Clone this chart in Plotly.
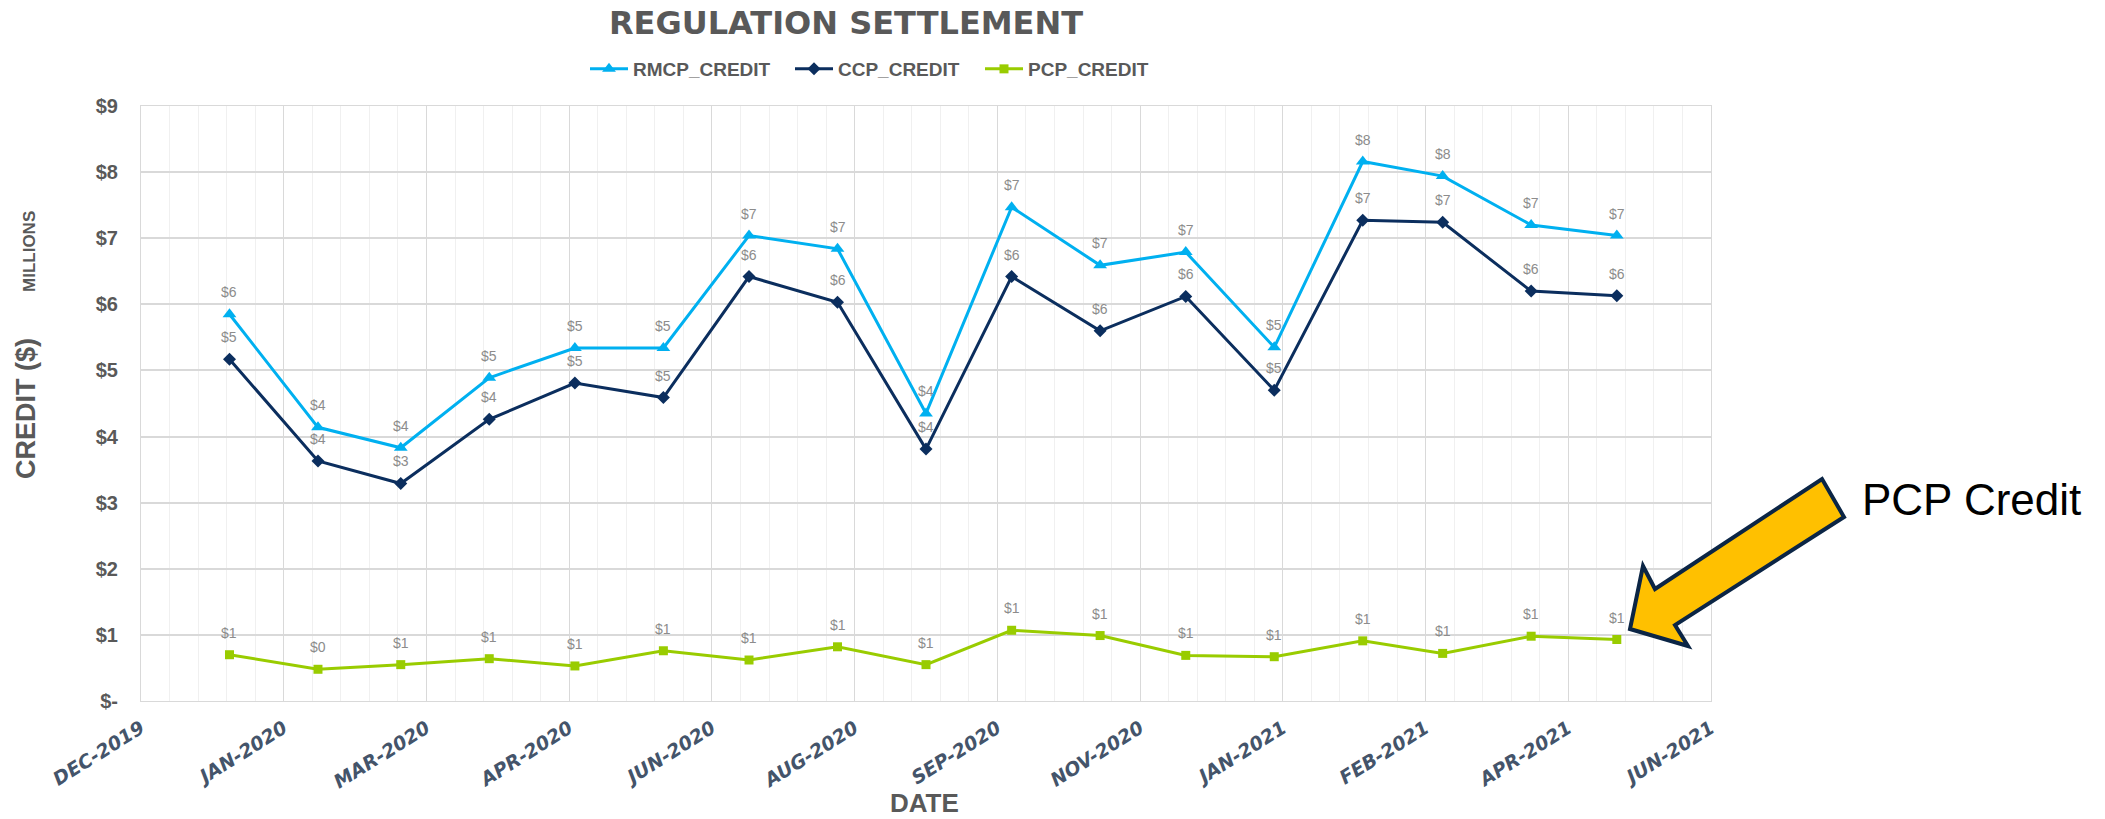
import plotly.graph_objects as go

# ---------------- data ----------------
months = ["2020-01-01", "2020-02-01", "2020-03-01", "2020-04-01", "2020-05-01", "2020-06-01",
          "2020-07-01", "2020-08-01", "2020-09-01", "2020-10-01", "2020-11-01", "2020-12-01",
          "2021-01-01", "2021-02-01", "2021-03-01", "2021-04-01", "2021-05-01"]
rmcp_credit = [5.85, 4.14, 3.83, 4.89, 5.34, 5.34, 7.04, 6.84, 4.35, 7.47, 6.59, 6.79,
               5.35, 8.16, 7.94, 7.20, 7.04]
ccp_credit = [5.17, 3.63, 3.29, 4.26, 4.81, 4.59, 6.42, 6.03, 3.81, 6.42, 5.60, 6.12,
              4.70, 7.27, 7.24, 6.20, 6.13]
pcp_credit = [0.70, 0.48, 0.55, 0.64, 0.53, 0.76, 0.62, 0.82, 0.55, 1.07, 0.99, 0.69,
              0.67, 0.91, 0.72, 0.98, 0.93]

tick_dates = ["2019-12-01", "2020-01-20", "2020-03-10", "2020-04-29", "2020-06-18", "2020-08-07",
              "2020-09-26", "2020-11-15", "2021-01-04", "2021-02-23", "2021-04-14", "2021-06-03"]
tick_labels = ["DEC-2019", "JAN-2020", "MAR-2020", "APR-2020", "JUN-2020", "AUG-2020",
               "SEP-2020", "NOV-2020", "JAN-2021", "FEB-2021", "APR-2021", "JUN-2021"]
y_ticks = [0, 1, 2, 3, 4, 5, 6, 7, 8, 9]
y_labels = ["$-", "$1", "$2", "$3", "$4", "$5", "$6", "$7", "$8", "$9"]

series_names = ["RMCP_CREDIT", "CCP_CREDIT", "PCP_CREDIT"]
series_values = [rmcp_credit, ccp_credit, pcp_credit]
series_colors = ["#00B0F0", "#0B2E5E", "#99CC00"]
series_symbols = ["triangle-up", "diamond", "square"]
series_sizes = [12, 10, 9]

# ---------------- layout geometry ----------------
W, H = 2105, 819
L, R, T, B = 141, 1711, 106, 701   # plot area in pixels
def px(x):
    return (x - L) / (R - L)
def py(y):
    return (B - y) / (B - T)

GRAY = "#595959"
DAY = 86400000
legend_ids = ["legend", "legend2", "legend3"]
legend_line_start = [591, 796, 986]   # pixel x where each legend entry starts

fig = go.Figure()
for i in range(3):
    fig.add_trace(go.Scatter(
        x=months, y=series_values[i], name=series_names[i], mode="lines+markers",
        line=dict(color=series_colors[i], width=3),
        marker=dict(symbol=series_symbols[i], size=series_sizes[i], color=series_colors[i]),
        legend=legend_ids[i],
    ))

annotations = []
for vals in series_values:
    for d, v in zip(months, vals):
        annotations.append(dict(
            x=d, y=v, xref="x", yref="y", text="$%d" % round(v), showarrow=False,
            xanchor="center", yanchor="middle", yshift=22,
            font=dict(family="Liberation Sans", size=14, color="#8C8C8C"),
        ))

# axis titles and callout text
annotations.append(dict(x=px(26), y=py(409), xref="paper", yref="paper", text="CREDIT ($)",
                        textangle=-90, showarrow=False, xanchor="center", yanchor="middle",
                        font=dict(family="Liberation Sans", size=27, color=GRAY, weight="bold")))
annotations.append(dict(x=px(29), y=py(252), xref="paper", yref="paper", text="MILLIONS",
                        textangle=-90, showarrow=False, xanchor="center", yanchor="middle",
                        font=dict(family="Liberation Sans", size=17, color=GRAY, weight="bold")))
annotations.append(dict(x=px(924), y=py(803), xref="paper", yref="paper", text="DATE",
                        showarrow=False, xanchor="center", yanchor="middle",
                        font=dict(family="Liberation Sans", size=26, color=GRAY, weight="bold")))
annotations.append(dict(x=px(1860), y=py(499), xref="paper", yref="paper", text="PCP Credit",
                        showarrow=False, xanchor="left", yanchor="middle",
                        font=dict(family="Liberation Sans", size=44, color="#000000")))

arrow_pts = [(1822, 479), (1844, 517), (1675, 625), (1688, 646), (1630, 629), (1643, 566), (1655, 589)]
path = "M " + " L ".join("%.5f,%.5f" % (px(a), py(b)) for a, b in arrow_pts) + " Z"

legend_font = dict(family="Liberation Sans", size=19, color=GRAY, weight="bold")
layout_legends = {}
for lid, xs in zip(legend_ids, legend_line_start):
    layout_legends[lid] = dict(orientation="h", x=px(xs - 6), y=py(69), xanchor="left",
                               yanchor="middle", font=legend_font, bgcolor="rgba(0,0,0,0)",
                               itemwidth=38)

fig.update_layout(
    width=W, height=H,
    margin=dict(l=L, r=W - R, t=T, b=H - B),
    paper_bgcolor="white", plot_bgcolor="white",
    title=dict(text="REGULATION SETTLEMENT", x=846 / W, xanchor="center",
               y=1 - 23 / H, yanchor="middle", yref="container",
               font=dict(family="DejaVu Sans", size=32, color=GRAY, weight="bold")),
    showlegend=True,
    annotations=annotations,
    shapes=[dict(type="path", path=path, xref="paper", yref="paper",
                 fillcolor="#FFC000", line=dict(color="#0B2545", width=4))],
    **layout_legends,
)

fig.update_xaxes(
    type="date", range=[tick_dates[0], tick_dates[-1]],
    tickmode="array", tickvals=tick_dates, ticktext=tick_labels, tickangle=-32,
    tickfont=dict(family="DejaVu Sans", size=19, color="#44546A", weight="bold", style="italic"),
    ticklabelstandoff=8,
    showgrid=True, gridcolor="#D9D9D9", gridwidth=1,
    minor=dict(tick0=tick_dates[0], dtick=10 * DAY, showgrid=True, gridcolor="#F0F0F0", gridwidth=1),
    showline=True, linecolor="#D9D9D9", mirror=True, zeroline=False, ticks="",
)
fig.update_yaxes(
    range=[0, 9], tickmode="array", tickvals=y_ticks, ticktext=y_labels,
    tickfont=dict(family="Liberation Sans", size=20, color=GRAY, weight="bold"),
    showgrid=True, gridcolor="#D9D9D9", gridwidth=1.5,
    showline=True, linecolor="#D9D9D9", mirror=True, zeroline=False, ticks="",
    ticklabelstandoff=18,
)

fig.write_html("out.html", config={"displayModeBar": False},
               post_script="document.body.style.margin='0';")
